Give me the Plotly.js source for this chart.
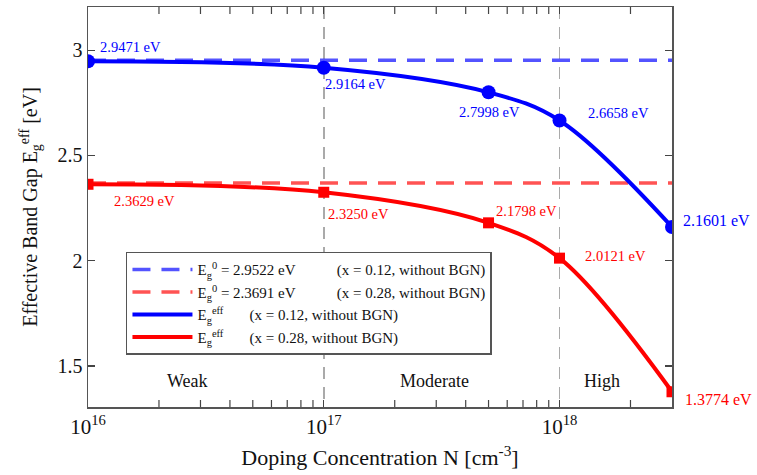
<!DOCTYPE html>
<html>
<head>
<meta charset="utf-8">
<script src="https://cdn.plot.ly/plotly-3.0.1.min.js"></script>
<style>html,body{margin:0;padding:0;background:#fff;}#chart{width:757px;height:475px;}</style>
</head>
<body>
<div id="chart"></div>
<script>
// ---- data ----
const dopingN = [1e16, 1e17, 5e17, 1e18, 3e18];
const egEffX012 = [2.9471, 2.9164, 2.7998, 2.6658, 2.1601];
const egEffX028 = [2.3629, 2.3250, 2.1798, 2.0121, 1.3774];
const eg0X012 = 2.9522;
const eg0X028 = 2.3691;
const xTickVals = [1e16, 1e17, 1e18];
const xTickText = ['10<sup>16</sup>', '10<sup>17</sup>', '10<sup>18</sup>'];
const yTickVals = [1.5, 2, 2.5, 3];
const regionNames = ['Weak', 'Moderate', 'High'];

// ---- styling ----
const FONT = 'Liberation Serif, Times New Roman, serif';
const BLUE = '#0000ff', RED = '#ff0000';
const BLUE_D = 'rgba(40,40,255,0.8)', RED_D = 'rgba(255,40,40,0.8)';
const sp = n => '\u00a0'.repeat(n);

const xEnds = [dopingN[0], dopingN[dopingN.length - 1]];
const xRange = [16, Math.log10(xEnds[1])];
const yRange = [1.305, 3.205];

// minor log tick positions (2..9 per decade) inside the axis range
const minorVals = [];
for (let d = 16; d <= 18; d++) {
  for (let k = 2; k <= 9; k++) {
    const v = k * Math.pow(10, d);
    if (v < xEnds[1]) minorVals.push(v);
  }
}

const tickMarker = {symbol: 'line-ns', size: 10, line: {color: '#444', width: 1.2}, color: '#444'};

const traces = [
  {x: xEnds, y: [eg0X012, eg0X012], mode: 'lines',
   line: {color: BLUE_D, width: 3.5, dash: '18px,11px'},
   name: 'E<sub>g</sub><sup>0</sup> = ' + eg0X012.toFixed(4) + ' eV' + sp(11) + '(x = 0.12, without BGN)'},
  {x: xEnds, y: [eg0X028, eg0X028], mode: 'lines',
   line: {color: RED_D, width: 3.5, dash: '18px,11px'},
   name: 'E<sub>g</sub><sup>0</sup> = ' + eg0X028.toFixed(4) + ' eV' + sp(11) + '(x = 0.28, without BGN)'},
  {x: dopingN, y: egEffX012, mode: 'lines',
   line: {color: BLUE, width: 4, shape: 'spline'},
   name: 'E<sub>g</sub><sup>eff</sup>' + sp(7) + '(x = 0.12, without BGN)'},
  {x: dopingN, y: egEffX028, mode: 'lines',
   line: {color: RED, width: 4, shape: 'spline'},
   name: 'E<sub>g</sub><sup>eff</sup>' + sp(7) + '(x = 0.28, without BGN)'},
  {x: dopingN, y: egEffX012, mode: 'markers', showlegend: false,
   marker: {symbol: 'circle', size: 14, color: BLUE}},
  {x: dopingN, y: egEffX028, mode: 'markers', showlegend: false,
   marker: {symbol: 'square', size: 11, color: RED}},
  // minor tick marks of the log axis (bottom and mirrored top), clipped to the plot area
  {x: minorVals, y: minorVals.map(() => yRange[0]), mode: 'markers', showlegend: false,
   hoverinfo: 'skip', cliponaxis: true, marker: tickMarker},
  {x: minorVals, y: minorVals.map(() => yRange[1]), mode: 'markers', showlegend: false,
   hoverinfo: 'skip', cliponaxis: true, marker: tickMarker}
];

// label offsets (pixels) per point
const offBlue = [[42, -14], [32, 16], [1, 20], [59, -8], [44, -6]];
const offRed = [[56, 17], [35, 22], [38, -12], [56, -2], [46, 8]];
const annotations = [];
dopingN.forEach((n, i) => {
  const big = i === dopingN.length - 1;
  annotations.push({x: Math.log10(n), y: egEffX012[i], xref: 'x', yref: 'y',
    text: egEffX012[i].toFixed(4) + ' eV', showarrow: false,
    xshift: offBlue[i][0], yshift: -offBlue[i][1],
    font: {family: FONT, size: big ? 16 : 14.5, color: BLUE}});
  annotations.push({x: Math.log10(n), y: egEffX028[i], xref: 'x', yref: 'y',
    text: egEffX028[i].toFixed(4) + ' eV', showarrow: false,
    xshift: offRed[i][0], yshift: -offRed[i][1],
    font: {family: FONT, size: big ? 16 : 14.5, color: RED}});
});
const regionPos = [[16.42, 1.43], [17.47, 1.43], [18.18, 1.43]];
regionNames.forEach((r, i) => {
  annotations.push({x: regionPos[i][0], y: regionPos[i][1], xref: 'x', yref: 'y',
    text: r, showarrow: false, font: {family: FONT, size: 18, color: '#111'}});
});

const layout = {
  width: 757, height: 475,
  margin: {l: 88, r: 85, t: 7, b: 68},
  paper_bgcolor: '#fff', plot_bgcolor: '#fff',
  font: {family: FONT, color: '#111'},
  showlegend: true,
  legend: {x: 0.065, y: 0.388, xanchor: 'left', yanchor: 'top',
    bgcolor: '#fff', bordercolor: '#555', borderwidth: 1.5, itemwidth: 60,
    font: {family: FONT, size: 15, color: '#111'}, traceorder: 'normal'},
  xaxis: {type: 'log', range: xRange,
    tickvals: xTickVals, ticktext: xTickText,
    tickfont: {family: FONT, size: 21, color: '#111'},
    ticks: 'inside', ticklen: 7, tickcolor: '#444', tickwidth: 1.3,
    showline: true, linecolor: '#555', linewidth: 1.5, mirror: 'ticks',
    showgrid: true, gridcolor: '#aaa', gridwidth: 1.5, griddash: '12px,8px',
    zeroline: false,
    title: {text: 'Doping Concentration N [cm<sup>-3</sup>]', standoff: 12,
      font: {family: FONT, size: 22, color: '#111'}}},
  yaxis: {range: yRange, tickvals: yTickVals,
    tickfont: {family: FONT, size: 20, color: '#111'},
    ticks: 'inside', ticklen: 7, tickcolor: '#444', tickwidth: 1.3,
    showline: true, linecolor: '#555', linewidth: 1.5, mirror: 'ticks',
    showgrid: false, zeroline: false,
    title: {text: 'Effective Band Gap E<sub>g</sub><sup>eff</sup> [eV]', standoff: 14,
      font: {family: FONT, size: 20, color: '#111'}}},
  annotations: annotations
};

Plotly.newPlot('chart', traces, layout, {displayModeBar: false, staticPlot: true});
</script>
</body>
</html>
